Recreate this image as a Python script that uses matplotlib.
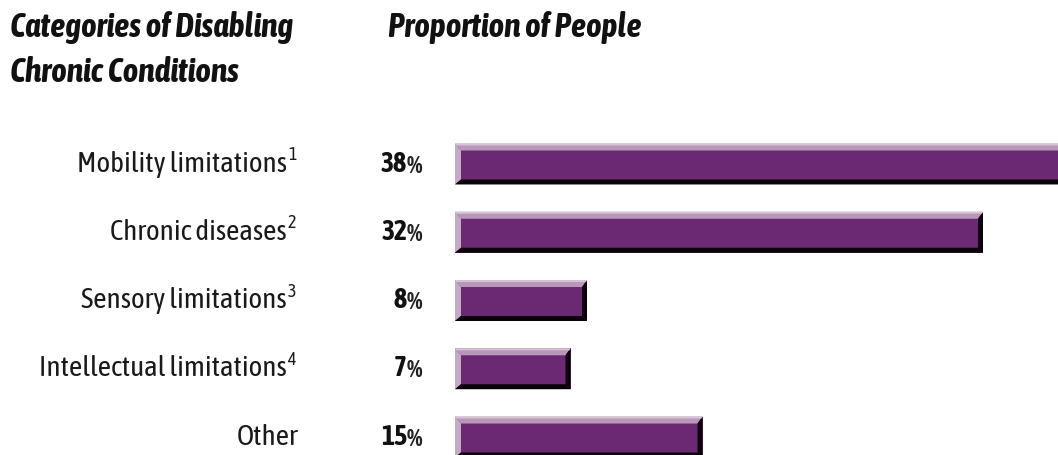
import matplotlib
matplotlib.use("Agg")
import matplotlib.pyplot as plt
from matplotlib.patches import Polygon
from matplotlib.transforms import IdentityTransform, blended_transform_factory

# categories and their share of people
categories = ["Mobility limitations", "Chronic diseases", "Sensory limitations",
              "Intellectual limitations", "Other"]
footnotes = ["1", "2", "3", "4", ""]
shares = [38, 32, 8, 7, 15]

FONT = ["Asap Condensed", "DejaVu Sans"]
FILL = "#6b2873"
TOP = "#b897b9"
LEFT = "#c9a7cb"
DARK = "#0a0208"

W, H = 1058, 455
fig = plt.figure(figsize=(W / 100, H / 100), dpi=100)
fig.patch.set_facecolor("white")

# bar area: starts at x=455px, ~16.5px per percent
x0 = 455
ax = fig.add_axes([x0 / W, 0, 1 - x0 / W, 1])
ax.set_xlim(0, (W - x0) / 16.5)
step = 68.25
ax.set_ylim((H - 164) / step, -164 / step)
ax.axis("off")

ypos = list(range(len(categories)))
bar_h = 0.6
bars = ax.barh(ypos, shares, height=bar_h, left=0, color=FILL, edgecolor="none")

# bevel edges, sized in pixels around each bar
fig.canvas.draw()
clip = ax.patch
for b in bars:
    (l, bt), (r, tp) = ax.transData.transform([(b.get_x(), b.get_y() + b.get_height()),
                                               (b.get_x() + b.get_width(), b.get_y())])
    t, d = 7, 5
    top = Polygon([(l, tp), (r, tp), (r - d, tp - t), (l + t - 1, tp - t)],
                  closed=True, facecolor=TOP, edgecolor="none", transform=IdentityTransform())
    left = Polygon([(l, tp), (l + t - 1, tp - t), (l + t - 1, bt + d), (l, bt)],
                   closed=True, facecolor=LEFT, edgecolor="none", transform=IdentityTransform())
    bottom = Polygon([(l, bt), (r, bt), (r - d, bt + d), (l + t - 1, bt + d)],
                     closed=True, facecolor=DARK, edgecolor="none", transform=IdentityTransform())
    right = Polygon([(r, tp), (r, bt), (r - d, bt + d), (r - d, tp - t)],
                    closed=True, facecolor=DARK, edgecolor="none", transform=IdentityTransform())
    hl = Polygon([(l, tp), (r, tp), (r - 1, tp - 2), (l + 1, tp - 2)],
                 closed=True, facecolor="#d6c3d6", edgecolor="none", transform=IdentityTransform())
    for p in (top, left, bottom, right, hl):
        p.set_clip_path(clip)
        ax.add_artist(p)

# labels left of the bars
tr = blended_transform_factory(fig.transFigure, ax.transData)
for y, name, fn, v in zip(ypos, categories, footnotes, shares):
    xr = 287 if fn else 298
    ax.text(xr / W, y, name, transform=tr, ha="right", va="center",
            fontsize=21, family=FONT, color="#1a1a1a", clip_on=False)
    if fn:
        ax.text(288 / W, y - 0.13, fn, transform=tr, ha="left", va="center",
                fontsize=13, family=FONT, color="#1a1a1a", clip_on=False)
    ax.text(407 / W, y, str(v), transform=tr, ha="right", va="center",
            fontsize=20, family=FONT, weight="bold", color="#111111", clip_on=False)
    ax.text(407 / W, y + 0.03, "%", transform=tr, ha="left", va="center",
            fontsize=18, family=FONT, weight="bold", color="#222222", clip_on=False)

# column headings
hkw = dict(fontsize=24, family=FONT, weight="bold", style="italic",
           color="#111111", va="center", ha="left")
fig.text(10 / W, 1 - 28 / H, "Categories of Disabling", **hkw)
fig.text(10 / W, 1 - 72 / H, "Chronic Conditions", **hkw)
fig.text(388 / W, 1 - 28 / H, "Proportion of People", **hkw)

fig.savefig("out.png", dpi=100)
